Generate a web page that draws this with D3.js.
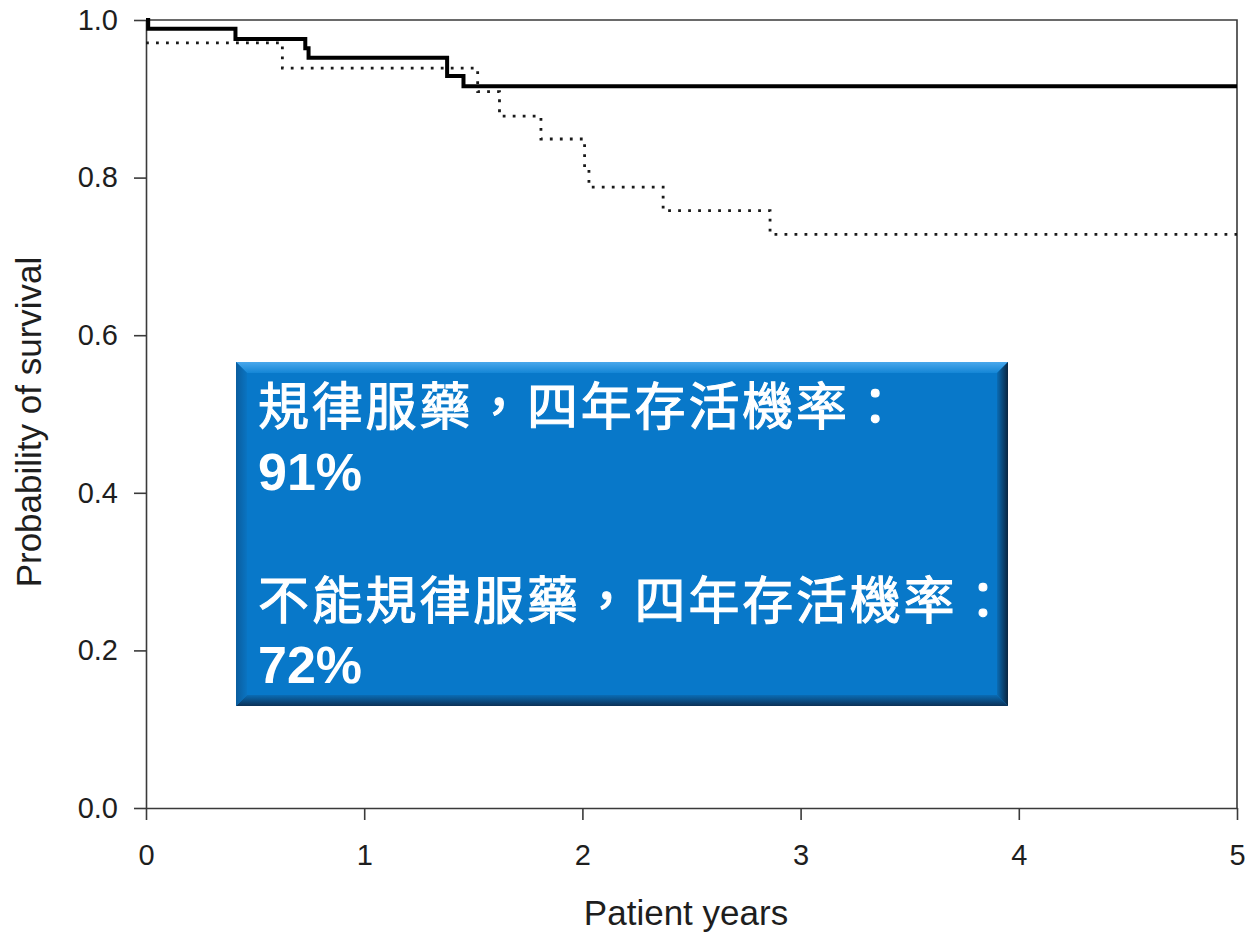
<!DOCTYPE html>
<html>
<head>
<meta charset="utf-8">
<script src="https://cdn.jsdelivr.net/npm/d3@7/dist/d3.min.js"></script>
<style>
  html, body { margin: 0; padding: 0; background: #fff; }
  svg { display: block; }
</style>
</head>
<body>
<svg id="chart" width="1245" height="933"></svg>
<script>
// ---- data ----
const xTicks = [0, 1, 2, 3, 4, 5];
const yTicks = [0.0, 0.2, 0.4, 0.6, 0.8, 1.0];
const regularTimes = [0, 0.01, 0.41, 0.73, 0.745, 1.38, 1.455, 5];
const regularSurv  = [1.0, 0.989, 0.976, 0.964, 0.952, 0.929, 0.916, 0.916];
const irregularTimes = [0, 0.625, 1.52, 1.62, 1.81, 2.01, 2.03, 2.37, 2.86, 5];
const irregularSurv  = [0.971, 0.939, 0.909, 0.878, 0.849, 0.813, 0.788, 0.758, 0.728, 0.728];
const xTitle = "Patient years";
const yTitle = "Probability of survival";
const noteLines = ["規律服藥，四年存活機率：", "91%", "不能規律服藥，四年存活機率：", "72%"];

// ---- layout ----
const svg = d3.select("#chart");
const L = 146, R = 1237, T = 20, B = 808;
const x = d3.scaleLinear().domain([0, 5]).range([L, R]);
const y = d3.scaleLinear().domain([0, 1]).range([B, T]);
const axisColor = "#3a3a3a";
const textColor = "#1e1e1e";

// frame (top / right)
svg.append("path")
  .attr("d", `M${L},${T}H${R}V${B}`)
  .attr("fill", "none").attr("stroke", axisColor).attr("stroke-width", 1.6);

// y axis
const yAxis = svg.append("g").attr("transform", `translate(${L},0)`)
  .call(d3.axisLeft(y).tickValues(yTicks).tickFormat(d3.format(".1f")).tickSize(12).tickPadding(16).tickSizeOuter(0));
// x axis
const xAxis = svg.append("g").attr("transform", `translate(0,${B})`)
  .call(d3.axisBottom(x).tickValues(xTicks).tickFormat(d3.format("d")).tickSize(12).tickPadding(24).tickSizeOuter(0));

[yAxis, xAxis].forEach(g => {
  g.select(".domain").attr("stroke", axisColor).attr("stroke-width", 1.6);
  g.selectAll(".tick line").attr("stroke", axisColor).attr("stroke-width", 1.6);
  g.selectAll(".tick text").attr("fill", textColor)
    .style("font-family", "'Liberation Sans', Arial, sans-serif").style("font-size", "29px");
});

// titles
svg.append("text").text(xTitle)
  .attr("x", 686).attr("y", 925).attr("text-anchor", "middle")
  .attr("fill", textColor)
  .style("font-family", "'Liberation Sans', Arial, sans-serif").style("font-size", "35px");
svg.append("text").text(yTitle)
  .attr("transform", `translate(41,422) rotate(-90)`).attr("text-anchor", "middle")
  .attr("fill", textColor)
  .style("font-family", "'Liberation Sans', Arial, sans-serif").style("font-size", "35px");

// survival curves
const line = d3.line().x(d => x(d[0])).y(d => y(d[1])).curve(d3.curveStepAfter);
const irregular = irregularTimes.map((t, i) => [t, irregularSurv[i]]);
const regular = regularTimes.map((t, i) => [t, regularSurv[i]]);

svg.append("path").datum(irregular).attr("d", line)
  .attr("fill", "none").attr("stroke", "#1a1a1a").attr("stroke-width", 2.8)
  .attr("stroke-dasharray", "2.8,7.2");
svg.append("path").datum(regular).attr("d", line)
  .attr("fill", "none").attr("stroke", "#000").attr("stroke-width", 4);

// annotation box with bevel
const bx0 = 236, by0 = 362, bx1 = 1008, by1 = 706, bv = 11;
const defs = svg.append("defs");
function grad(id, x1, y1, x2, y2, stops) {
  const g = defs.append("linearGradient").attr("id", id)
    .attr("x1", x1).attr("y1", y1).attr("x2", x2).attr("y2", y2);
  stops.forEach(s => g.append("stop").attr("offset", s[0]).attr("stop-color", s[1]));
}
grad("gTop", 0, 1, 0, 0, [[0, "#1486d6"], [1, "#4aa8ec"]]);
grad("gRight", 0, 0, 1, 0, [[0, "#0a6cb4"], [1, "#0a2540"]]);
grad("gBottom", 0, 0, 0, 1, [[0, "#0a6cb4"], [1, "#0b3157"]]);
grad("gLeft", 1, 0, 0, 0, [[0, "#0a74c2"], [1, "#0a5d9e"]]);

const box = svg.append("g");
box.append("rect").attr("x", bx0).attr("y", by0).attr("width", bx1 - bx0).attr("height", by1 - by0)
  .attr("fill", "#0878c9");
box.append("polygon").attr("points", `${bx0},${by0} ${bx1},${by0} ${bx1 - bv},${by0 + bv} ${bx0 + bv},${by0 + bv}`).attr("fill", "url(#gTop)");
box.append("polygon").attr("points", `${bx1},${by0} ${bx1},${by1} ${bx1 - bv},${by1 - bv} ${bx1 - bv},${by0 + bv}`).attr("fill", "url(#gRight)");
box.append("polygon").attr("points", `${bx0},${by1} ${bx1},${by1} ${bx1 - bv},${by1 - bv} ${bx0 + bv},${by1 - bv}`).attr("fill", "url(#gBottom)");
box.append("polygon").attr("points", `${bx0},${by0} ${bx0 + bv},${by0 + bv} ${bx0 + bv},${by1 - bv} ${bx0},${by1}`).attr("fill", "url(#gLeft)");

const noteY = [425, 490, 619, 683];
noteLines.forEach((t, i) => {
  const cjk = i % 2 === 0;
  box.append("text").text(t)
    .attr("x", 258).attr("y", noteY[i])
    .attr("fill", "#fff")
    .attr("stroke", cjk ? "#fff" : "none")
    .attr("stroke-width", cjk ? 1.1 : 0)
    .style("font-family", cjk ? "'Noto Sans CJK TC', 'Noto Sans CJK SC', sans-serif" : "'Liberation Sans', Arial, sans-serif")
    .style("font-weight", cjk ? "400" : "bold")
    .style("font-size", cjk ? "51px" : "52px")
    .style("letter-spacing", cjk ? "2.8px" : "0px");
});
</script>
</body>
</html>
